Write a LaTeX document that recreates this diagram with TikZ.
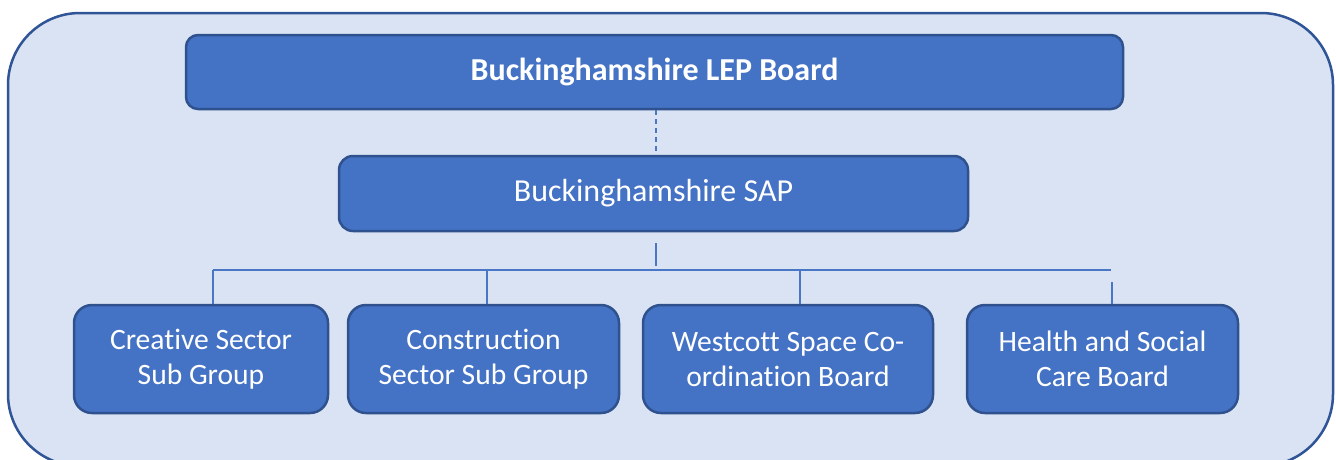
\documentclass[tikz,border=0pt]{standalone}
\usepackage{fontspec}
\setmainfont[Ligatures=NoCommon]{Carlito}
\definecolor{panelfill}{HTML}{DAE3F3}
\definecolor{panelline}{HTML}{2F5597}
\definecolor{boxfill}{HTML}{4472C4}
\definecolor{boxline}{HTML}{2F528F}
\definecolor{linkblue}{HTML}{4A76C6}
\begin{document}
\begin{tikzpicture}[x=1pt, y=-1pt,
  unit/.style={rectangle, rounded corners=18pt, fill=boxfill, draw=boxline, line width=2.5pt, text=white, align=center, inner sep=0pt, font=\fontsize{29.6}{35}\selectfont},
  link/.style={draw=linkblue, line width=1.5pt}]
\useasboundingbox (0,0) rectangle (1336,459);
\draw[fill=panelfill, draw=panelline, line width=2.5pt, rounded corners=72pt] (8,13) rectangle (1333,466);
\node[unit, rounded corners=12pt, minimum width=937pt, minimum height=74pt, font=\bfseries\fontsize{32}{38}\selectfont] (lep) at (654.5,72){Buckinghamshire LEP Board};
\node[unit, rounded corners=14pt, minimum width=629pt, minimum height=75pt, font=\fontsize{32}{38}\selectfont] (sap) at (653.5,193.5){Buckinghamshire SAP};
\node[unit, minimum width=254pt, minimum height=108pt] (creative) at (201,359){Creative Sector\\Sub Group};
\node[unit, minimum width=271pt, minimum height=108pt] (construction) at (483.5,359){Construction\\Sector Sub Group};
\node[unit, minimum width=290pt, minimum height=108pt] (westcott) at (788,359){Westcott Space Co-\\ordination Board};
\node[unit, minimum width=271pt, minimum height=108pt] (health) at (1102.5,359){Health and Social\\Care Board};
\coordinate (stub) at (656,243);
\coordinate (stubend) at (656,266);
\coordinate (barL) at (213,270);
\coordinate (barB) at (487,270);
\coordinate (barC) at (800,270);
\coordinate (barR) at (1111,270);
\coordinate (dropR) at (1112,282);
\draw[link, dash pattern=on 5pt off 4pt] (lep.south -| stub) -- (sap.north -| stub);
\draw[link](stub) -- (stubend);
\draw[link](barL) -- (barR);
\draw[link](barL) -- (barL |- creative.north);
\draw[link](barB) -- (barB |- construction.north);
\draw[link](barC) -- (barC |- westcott.north);
\draw[link](dropR) -- (dropR |- health.north);
\end{tikzpicture}
\end{document}
